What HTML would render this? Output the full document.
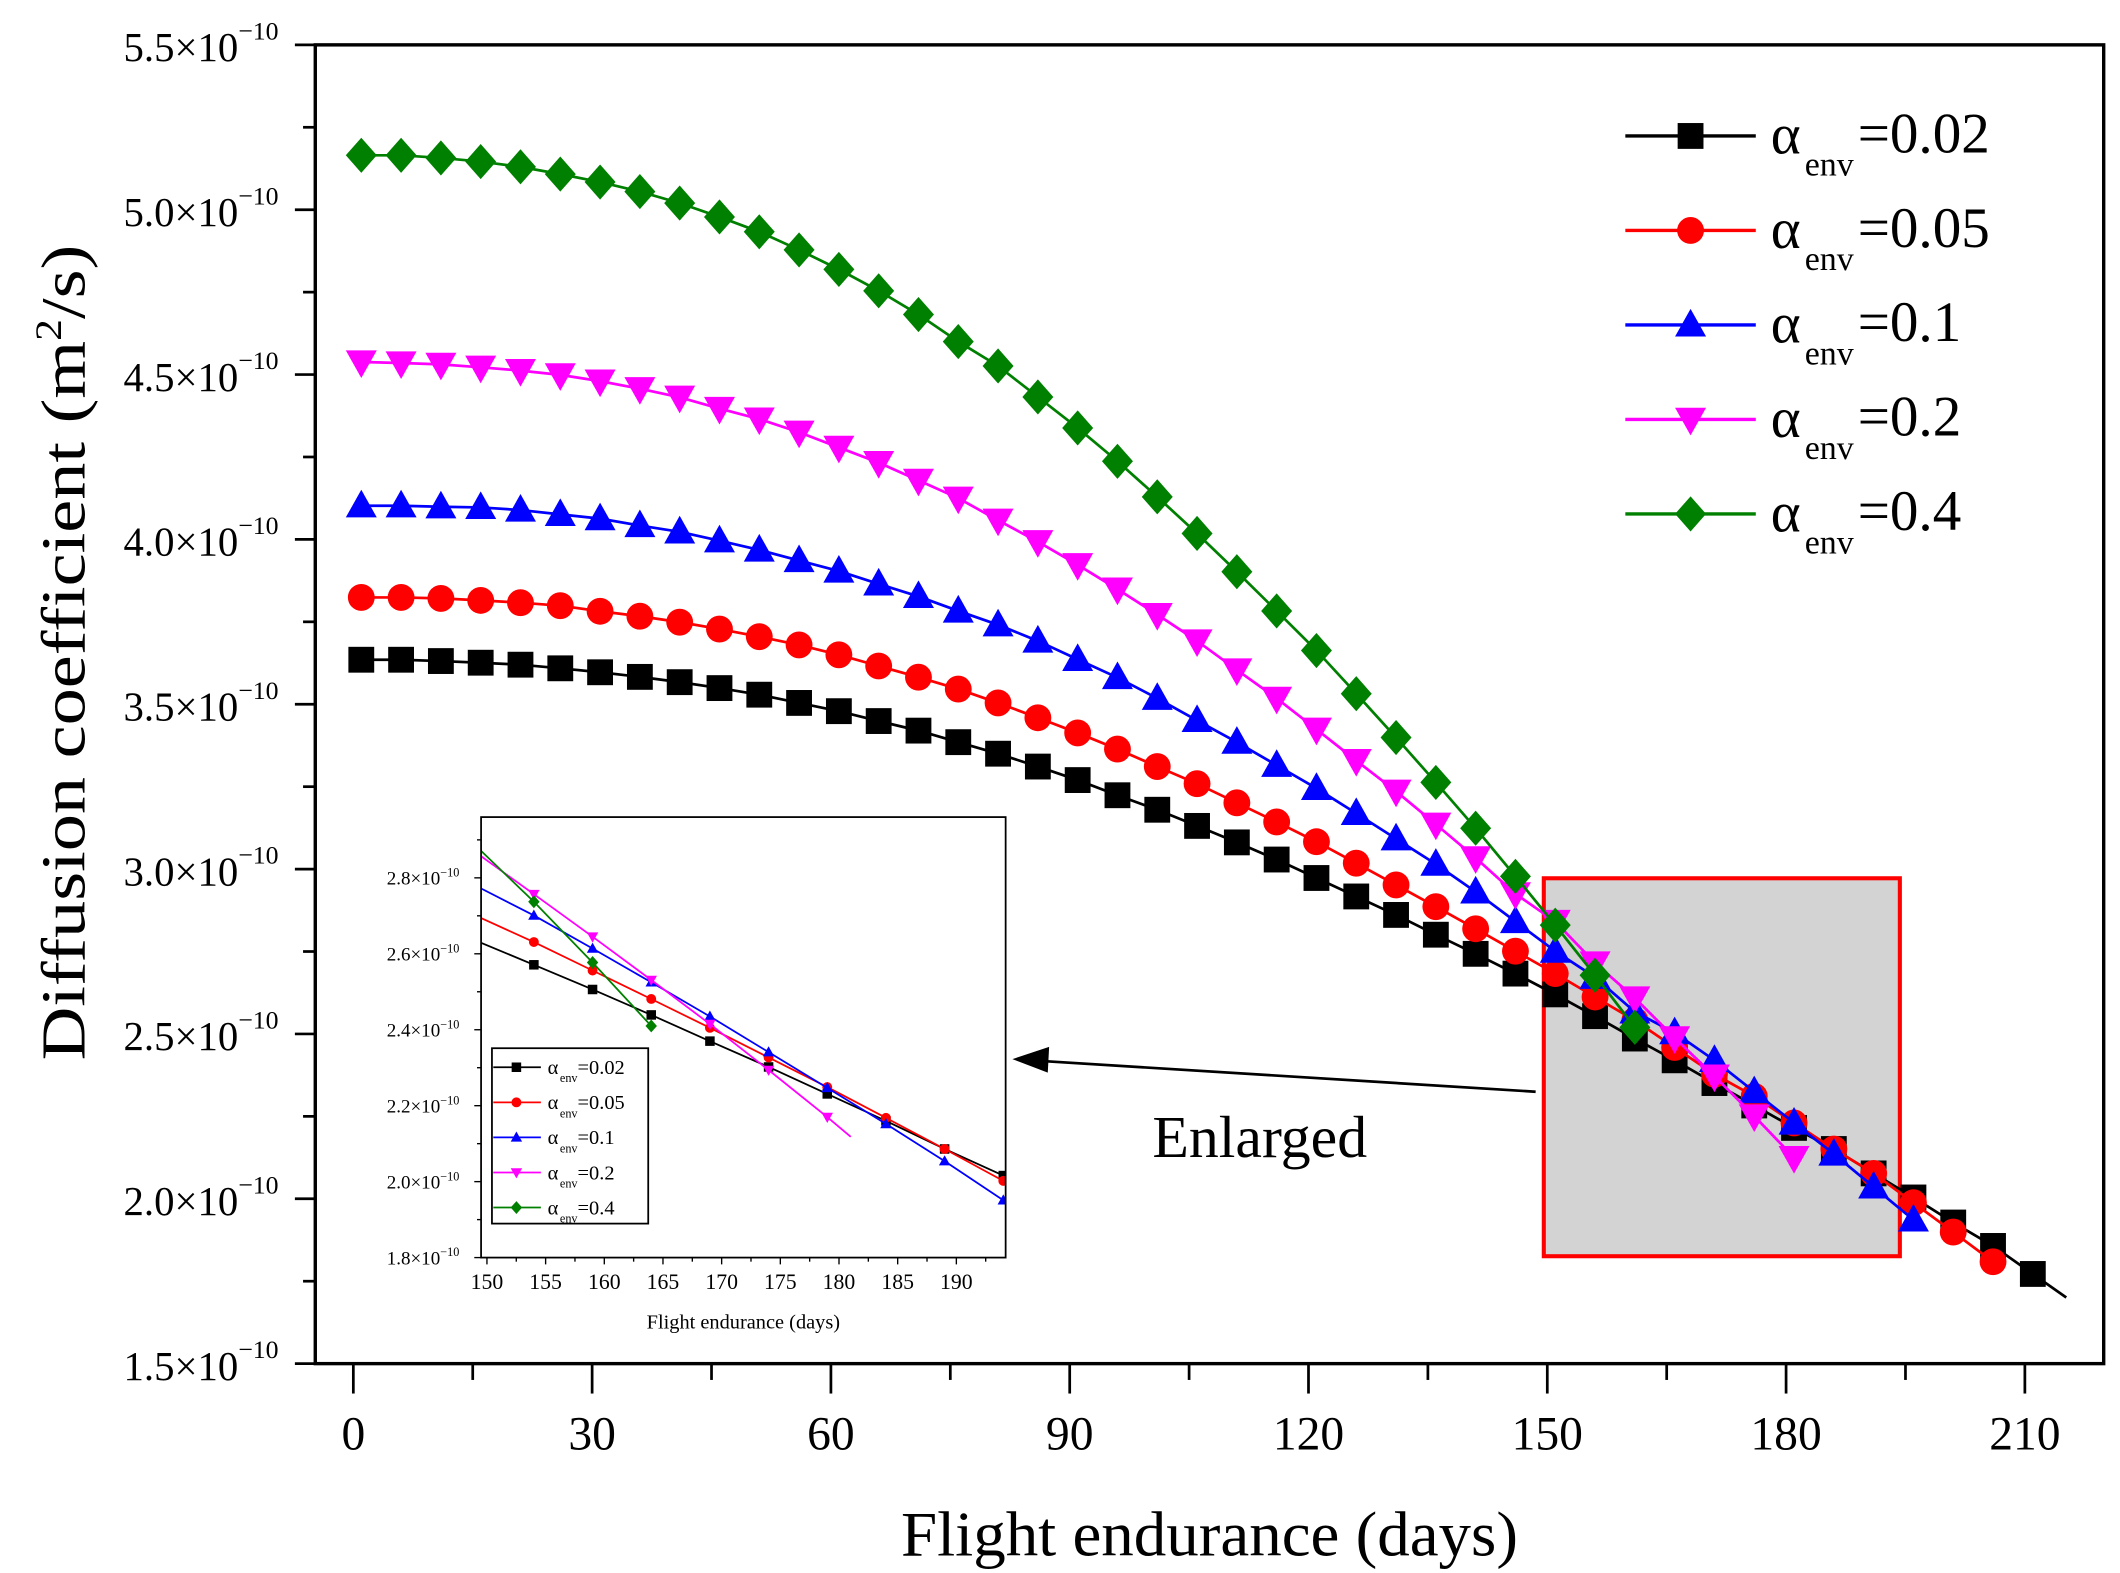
<!DOCTYPE html>
<html><head><meta charset="utf-8"><style>
html,body{margin:0;padding:0;background:#fff;}
svg{display:block;font-family:"Liberation Serif",serif;}
</style></head><body>
<svg id="chart" width="2120" height="1573" viewBox="0 0 1560 1157" preserveAspectRatio="none" xmlns="http://www.w3.org/2000/svg">
<rect x="0" y="0" width="1560" height="1157" fill="#fff"/>
<g id="main"></g>
</svg>
<script>
// ---- main chart data (values in units of 1e-10 m^2/s) ----
const days002 = [1,6,11,16,21,26,31,36,41,46,51,56,61,66,71,76,81,86,91,96,101,106,111,116,121,126,131,136,141,146,151,156,161,166,171,176,181,186,191,196,201,206,211];
const vals002 = [3.635,3.635,3.631,3.626,3.620,3.609,3.597,3.583,3.567,3.549,3.529,3.504,3.479,3.449,3.420,3.385,3.350,3.311,3.270,3.224,3.180,3.131,3.081,3.029,2.973,2.917,2.861,2.801,2.743,2.683,2.620,2.554,2.486,2.420,2.351,2.283,2.215,2.151,2.077,2.004,1.928,1.857,1.772];
const vals005 = [3.824,3.824,3.821,3.815,3.808,3.799,3.782,3.767,3.749,3.728,3.705,3.680,3.650,3.616,3.582,3.546,3.504,3.459,3.413,3.364,3.311,3.259,3.201,3.143,3.083,3.018,2.952,2.886,2.819,2.751,2.683,2.612,2.541,2.459,2.378,2.311,2.230,2.151,2.077,1.988,1.899,1.809];
const vals01 = [4.102,4.102,4.099,4.097,4.089,4.076,4.063,4.042,4.023,3.996,3.968,3.936,3.904,3.865,3.827,3.783,3.741,3.692,3.636,3.581,3.518,3.451,3.385,3.315,3.245,3.169,3.092,3.015,2.931,2.841,2.751,2.672,2.567,2.504,2.420,2.325,2.230,2.136,2.036,1.936];
const vals02 = [4.538,4.535,4.531,4.522,4.512,4.499,4.480,4.457,4.431,4.397,4.365,4.325,4.279,4.233,4.179,4.125,4.058,3.993,3.923,3.849,3.772,3.692,3.604,3.518,3.424,3.329,3.236,3.136,3.034,2.925,2.841,2.715,2.609,2.488,2.372,2.251,2.125];
const vals04 = [5.165,5.165,5.157,5.146,5.130,5.108,5.084,5.055,5.020,4.978,4.933,4.878,4.819,4.754,4.682,4.600,4.526,4.432,4.338,4.237,4.129,4.018,3.902,3.783,3.663,3.532,3.399,3.263,3.124,2.978,2.830,2.678,2.520];
const seriesLabels = ["=0.02","=0.05","=0.1","=0.2","=0.4"];
const xTicks = [0,30,60,90,120,150,180,210];
const yTicks = [1.5,2.0,2.5,3.0,3.5,4.0,4.5,5.0,5.5];
// ---- inset data ----
const insetDays = [149.5,154,159,164,169,174,179,184,189,194];
const inset002 = [2.629,2.571,2.506,2.439,2.370,2.302,2.231,2.160,2.086,2.016];
const inset005 = [2.694,2.631,2.556,2.481,2.405,2.327,2.249,2.168,2.086,2.002];
const inset01 = [2.772,2.701,2.614,2.525,2.435,2.341,2.247,2.152,2.054,1.951];
const inset02 = [2.857,2.757,2.645,2.531,2.415,2.294,2.170];
const inset02EndDay = 181, inset02EndVal = 2.118;
const inset04 = [2.871,2.737,2.577,2.410];
const insetXTicks = [150,155,160,165,170,175,180,185,190];
const insetYTicks = [1.8,2.0,2.2,2.4,2.6,2.8];

const NS = "http://www.w3.org/2000/svg";
const root = document.getElementById('main');
function mk(tag, attrs, parent, text){
  const e = document.createElementNS(NS, tag);
  for (const k in attrs) e.setAttribute(k, attrs[k]);
  if (text !== undefined) e.textContent = text;
  (parent || root).appendChild(e);
  return e;
}
const colors = ["#000000","#ff0000","#0000ff","#ff00ff","#008000"];
const shapes = ["square","circle","up","down","diamond"];
function marker(parent, shape, cx, cy, s, color){
  let e;
  if (shape === "square") e = mk('rect',{x:cx-s*0.5,y:cy-s*0.5,width:s,height:s,fill:color},parent);
  else if (shape === "circle") e = mk('circle',{cx:cx,cy:cy,r:s*0.52,fill:color},parent);
  else if (shape === "up") e = mk('polygon',{points:`${cx},${cy-s*0.62} ${cx-s*0.6},${cy+s*0.45} ${cx+s*0.6},${cy+s*0.45}`,fill:color},parent);
  else if (shape === "down") e = mk('polygon',{points:`${cx},${cy+s*0.62} ${cx-s*0.6},${cy-s*0.45} ${cx+s*0.6},${cy-s*0.45}`,fill:color},parent);
  else e = mk('polygon',{points:`${cx},${cy-s*0.68} ${cx+s*0.6},${cy} ${cx},${cy+s*0.68} ${cx-s*0.6},${cy}`,fill:color},parent);
  return e;
}

// ---- main axes ----
const PL=232, PR=1548, PT=33, PB=1003;
const X = d => 260 + d*(1490-260)/210;
const Y = v => PT + (5.5 - v)*(PB-PT)/4;

const box = mk('rect',{x:1136,y:646,width:262,height:278,fill:"#d3d3d3",stroke:"#ff0000","stroke-width":3});



const allVals = [vals002, vals005, vals01, vals02, vals04];
const names = ["series-alpha-0-02","series-alpha-0-05","series-alpha-0-1","series-alpha-0-2","series-alpha-0-4"];
allVals.forEach((vals, si) => {
  const g = mk('g',{});
  
  
  let pts = vals.map((v,i)=>`${X(days002[i])},${Y(v)}`);
  if (si === 0) {
    const n = vals.length, slope = (vals[n-1]-vals[n-2])/(days002[n-1]-days002[n-2]);
    pts.push(`${X(days002[n-1]+4.2)},${Y(vals[n-1]+slope*4.2)}`);
  }
  const line = mk('polyline',{points:pts.join(' '),fill:"none",stroke:colors[si],"stroke-width":2},g);
  
  
  vals.forEach((v,i)=>{
    const m = marker(g, shapes[si], X(days002[i]), Y(v), 19, colors[si]);
    
    
  });
});

const frame = mk('rect',{x:PL,y:PT,width:PR-PL,height:PB-PT,fill:"none",stroke:"#000","stroke-width":2.5});



yTicks.forEach((t,i)=>{
  const y = Y(t);
  const tk = mk('line',{x1:PL-15,y1:y,x2:PL,y2:y,stroke:"#000","stroke-width":2});
  
  
  if (i < yTicks.length-1) mk('line',{x1:PL-9,y1:Y(t+0.25),x2:PL,y2:Y(t+0.25),stroke:"#000","stroke-width":2});
  const tx = mk('text',{x:205,y:y+12,"text-anchor":"end","font-size":30});
  
  
  const a = document.createElementNS(NS,'tspan'); a.textContent = t.toFixed(1)+"×10"; tx.appendChild(a);
  const b = document.createElementNS(NS,'tspan'); b.setAttribute('dy','-16'); b.setAttribute('font-size','19'); b.textContent = "−10"; tx.appendChild(b);
});
xTicks.forEach((t,i)=>{
  const x = X(t);
  const tk = mk('line',{x1:x,y1:PB,x2:x,y2:PB+22,stroke:"#000","stroke-width":2});
  
  
  if (i < xTicks.length-1) mk('line',{x1:X(t+15),y1:PB,x2:X(t+15),y2:PB+12,stroke:"#000","stroke-width":2});
  const tx = mk('text',{x:x,y:1066,"text-anchor":"middle","font-size":35},root,String(t));
  
  
});
const xt = mk('text',{x:890,y:1144,"text-anchor":"middle","font-size":47,textLength:454,lengthAdjust:"spacingAndGlyphs"},root,"Flight endurance (days)");


const yt = mk('text',{x:0,y:0,"text-anchor":"middle","font-size":46,transform:"translate(62,480) rotate(-90)",textLength:600,lengthAdjust:"spacingAndGlyphs"});


(function(){
  const a=document.createElementNS(NS,'tspan'); a.textContent="Diffusion coefficient (m"; yt.appendChild(a);
  const b=document.createElementNS(NS,'tspan'); b.setAttribute('dy','-17'); b.setAttribute('font-size','27'); b.textContent="2"; yt.appendChild(b);
  const c=document.createElementNS(NS,'tspan'); c.setAttribute('dy','17'); c.textContent="/s)"; yt.appendChild(c);
})();

seriesLabels.forEach((lab,i)=>{
  const y = 100 + i*69.5;
  const g = mk('g',{});
  
  
  mk('line',{x1:1196,y1:y,x2:1292,y2:y,stroke:colors[i],"stroke-width":2.5},g);
  marker(g, shapes[i], 1244, y, 19, colors[i]);
  mk('text',{x:1303,y:y+13,"font-size":42},g,"α");
  mk('text',{x:1328,y:y+29,"font-size":25},g,"env");
  mk('text',{x:1367,y:y+12,"font-size":42},g,lab);
});

const arr = mk('line',{x1:1130,y1:803,x2:760,y2:780,stroke:"#000","stroke-width":2});


mk('polygon',{points:"745,779 772,770 771,789",fill:"#000"});
const enl = mk('text',{x:848,y:851,"font-size":44},root,"Enlarged");



// ---- inset ----
const IL=354, IR=740, IT=601, IB=925;
const IX = d => IL + (d-149.5)*(IR-IL)/(194.2-149.5);
const IY = v => IB - (v-1.8)*(IB-IT)/(2.96-1.8);
const ig = mk('g',{});


mk('rect',{x:IL,y:IT,width:IR-IL,height:IB-IT,fill:"#fff"},ig);
const defs = mk('defs',{},ig);
const cp = mk('clipPath',{id:"ic"},defs);
mk('rect',{x:IL,y:IT,width:IR-IL,height:IB-IT},cp);
const insetVals = [inset002, inset005, inset01, inset02, inset04];
insetVals.forEach((vals,si)=>{
  const g = mk('g',{"clip-path":"url(#ic)"},ig);
  
  
  const pts = vals.map((v,i)=>`${IX(insetDays[i])},${IY(v)}`);
  if (si === 3) pts.push(`${IX(inset02EndDay)},${IY(inset02EndVal)}`);
  mk('polyline',{points:pts.join(' '),fill:"none",stroke:colors[si],"stroke-width":1.3},g);
  vals.forEach((v,i)=>{ if (i>0) {
    const m = marker(g, shapes[si], IX(insetDays[i]), IY(v), 7, colors[si]);
    
    
  }});
});
mk('rect',{x:IL,y:IT,width:IR-IL,height:IB-IT,fill:"none",stroke:"#000","stroke-width":1.3},ig);
insetYTicks.forEach((t,i)=>{
  const y = IY(t);
  mk('line',{x1:IL-5,y1:y,x2:IL,y2:y,stroke:"#000","stroke-width":1},ig);
  if (i<insetYTicks.length-1) mk('line',{x1:IL-3,y1:IY(t+0.1),x2:IL,y2:IY(t+0.1),stroke:"#000","stroke-width":1},ig);
  const tx = mk('text',{x:338,y:y+5,"text-anchor":"end","font-size":14},ig);
  
  
  const a=document.createElementNS(NS,'tspan'); a.textContent=t.toFixed(1)+"×10"; tx.appendChild(a);
  const b=document.createElementNS(NS,'tspan'); b.setAttribute('dy','-6'); b.setAttribute('font-size','9'); b.textContent="−10"; tx.appendChild(b);
});
mk('line',{x1:IL-3,y1:IY(2.9),x2:IL,y2:IY(2.9),stroke:"#000","stroke-width":1},ig);
insetXTicks.forEach((t)=>{
  const x = IX(t);
  mk('line',{x1:x,y1:IB,x2:x,y2:IB+5,stroke:"#000","stroke-width":1},ig);
  mk('line',{x1:IX(t+2.5),y1:IB,x2:IX(t+2.5),y2:IB+3,stroke:"#000","stroke-width":1},ig);
  const tx = mk('text',{x:x,y:948,"text-anchor":"middle","font-size":16},ig,String(t));
  
  
});
const ixt = mk('text',{x:547,y:977,"text-anchor":"middle","font-size":15},ig,"Flight endurance (days)");


const lg = mk('g',{},ig);


mk('rect',{x:362,y:771,width:115,height:129,fill:"#fff",stroke:"#000","stroke-width":1.3},lg);
seriesLabels.forEach((lab,i)=>{
  const y = 785 + i*25.8;
  mk('line',{x1:363,y1:y,x2:398,y2:y,stroke:colors[i],"stroke-width":1.3},lg);
  marker(lg, shapes[i], 380, y, 7, colors[i]);
  mk('text',{x:403,y:y+5,"font-size":15},lg,"α");
  mk('text',{x:412,y:y+11,"font-size":9},lg,"env");
  mk('text',{x:425,y:y+5,"font-size":15},lg,lab);
});
</script>
</body></html>
